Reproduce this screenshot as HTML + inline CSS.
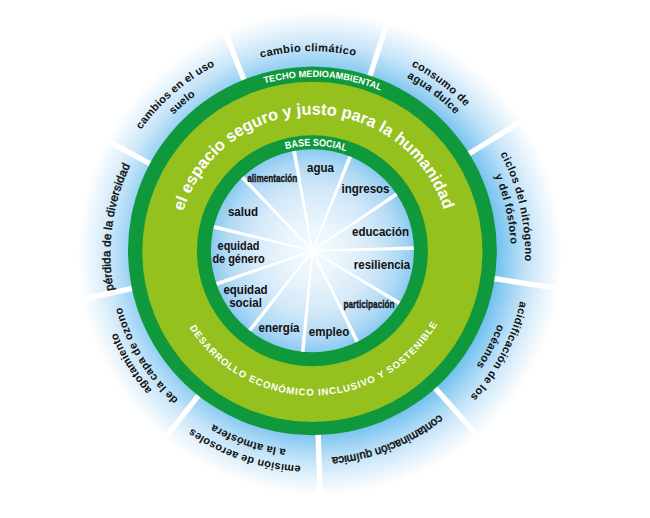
<!DOCTYPE html>
<html><head><meta charset="utf-8"><title>Doughnut</title>
<style>html,body{margin:0;padding:0;background:#fff;}body{width:650px;height:518px;overflow:hidden;font-family:"Liberation Sans",sans-serif;}svg{display:block;}</style>
</head><body>
<svg width="650" height="518" viewBox="0 0 650 518" font-family="'Liberation Sans', sans-serif">
<defs>
<radialGradient id="glow" gradientUnits="userSpaceOnUse" cx="320.0" cy="253.5" r="242">
<stop offset="0" stop-color="#6ebfee"/>
<stop offset="0.723" stop-color="#6ebfee"/>
<stop offset="0.791" stop-color="#9ad2f4"/>
<stop offset="0.860" stop-color="#c6e4f8"/>
<stop offset="0.928" stop-color="#e4f2fc"/>
<stop offset="1" stop-color="#ffffff"/>
</radialGradient>
<radialGradient id="hole" gradientUnits="userSpaceOnUse" cx="312.4" cy="250.8" r="101.5">
<stop offset="0" stop-color="#f6fbfe"/>
<stop offset="0.3" stop-color="#e9f4fc"/>
<stop offset="0.6" stop-color="#d3e9f9"/>
<stop offset="0.85" stop-color="#b1daf5"/>
<stop offset="1" stop-color="#8ccaf1"/>
</radialGradient>
<clipPath id="holeclip"><circle cx="312.4" cy="250.8" r="101.5"/></clipPath>
<path id="p1" d="M110.44,257.43 A202.00,202.00 0 0 1 514.36,248.97"/><path id="p2" d="M143.31,125.32 A212.00,212.00 0 0 1 481.49,381.08"/><path id="p3" d="M153.36,132.92 A199.40,199.40 0 0 1 471.44,373.48"/><path id="p4" d="M265.08,44.91 A213.60,213.60 0 0 1 359.72,461.49"/><path id="p5" d="M268.36,59.34 A198.80,198.80 0 0 1 356.44,447.06"/><path id="p6" d="M411.69,64.08 A213.60,213.60 0 0 1 213.11,442.32"/><path id="p7" d="M404.81,77.18 A198.80,198.80 0 0 1 219.99,429.22"/><path id="p8" d="M503.02,176.96 A205.30,205.30 0 0 1 121.78,329.44"/><path id="p9" d="M513.73,322.13 A212.80,212.80 0 0 1 111.07,184.27"/><path id="p10" d="M500.48,317.59 A198.80,198.80 0 0 1 124.32,188.81"/><path id="p11" d="M422.17,434.10 A211.60,211.60 0 0 1 202.63,72.30"/><path id="p12" d="M416.31,422.10 A198.30,198.30 0 0 1 208.49,84.30"/><path id="p13" d="M285.51,454.71 A203.30,203.30 0 0 1 339.29,51.69"/><path id="p14" d="M152.52,391.20 A211.20,211.20 0 0 1 472.28,115.20"/><path id="p15" d="M163.35,381.86 A196.90,196.90 0 0 1 461.45,124.54"/><path id="p16" d="M138.82,240.18 A173.90,173.90 0 0 1 485.98,261.42"/><path id="p17" d="M207.46,247.14 A105.00,105.00 0 0 1 417.34,254.46"/><path id="p18" d="M177.60,251.63 A136.30,136.30 0 0 1 450.20,249.97"/><path id="p19" d="M167.42,253.20 A145.00,145.00 0 0 0 457.38,248.40"/>
</defs>
<rect width="650" height="518" fill="#fff"/>
<circle cx="320.0" cy="253.5" r="242" fill="url(#glow)"/>
<g stroke="#fff" stroke-width="5.4"><line x1="369.37" y1="77.53" x2="389.86" y2="15.21"/><line x1="467.42" y1="154.68" x2="523.17" y2="120.11"/><line x1="492.70" y1="278.39" x2="557.55" y2="288.31"/><line x1="433.98" y1="386.77" x2="477.70" y2="435.68"/><line x1="318.13" y1="433.11" x2="320.19" y2="498.68"/><line x1="199.60" y1="394.14" x2="159.03" y2="445.69"/><line x1="133.85" y1="288.10" x2="69.64" y2="301.52"/><line x1="151.65" y1="164.61" x2="93.84" y2="133.61"/><line x1="244.66" y1="81.44" x2="220.30" y2="20.54"/></g>
<circle cx="312.4" cy="250.8" r="184.4" fill="#10993c"/>
<circle cx="312.4" cy="251.8" r="170.1" fill="#95c11f"/>
<circle cx="312.4" cy="250.8" r="115.5" fill="#10993c"/>
<circle cx="312.4" cy="250.8" r="101.5" fill="url(#hole)"/>
<g fill="#fff" clip-path="url(#holeclip)"><polygon points="311.61,250.94 291.85,149.34 295.59,148.66 313.19,250.66"/><polygon points="311.66,250.50 349.12,154.01 352.65,155.43 313.14,251.10"/><polygon points="311.95,250.14 397.20,191.43 399.32,194.58 312.85,251.46"/><polygon points="312.38,250.00 415.81,246.16 415.91,249.96 312.42,251.60"/><polygon points="312.81,250.11 402.09,302.49 400.13,305.75 311.99,251.49"/><polygon points="313.12,250.45 359.90,342.77 356.50,344.46 311.68,251.15"/><polygon points="313.20,250.88 304.44,354.01 300.65,353.65 311.60,250.72"/><polygon points="313.03,251.29 249.90,333.32 246.91,330.97 311.77,250.31"/><polygon points="312.66,251.56 215.21,286.43 213.97,282.84 312.14,250.04"/><polygon points="312.21,251.58 211.37,228.23 212.27,224.54 312.59,250.02"/><polygon points="311.82,251.35 239.61,177.19 242.36,174.57 312.98,250.25"/></g>
<text font-size="11" font-weight="bold" fill="#111" letter-spacing="0.4"><textPath href="#p1" startOffset="50%" text-anchor="middle">cambio climático</textPath></text><text font-size="11" font-weight="bold" fill="#111" letter-spacing="0.4"><textPath href="#p2" startOffset="50%" text-anchor="middle">consumo de</textPath></text><text font-size="11" font-weight="bold" fill="#111" letter-spacing="0.4"><textPath href="#p3" startOffset="50%" text-anchor="middle">agua dulce</textPath></text><text font-size="11" font-weight="bold" fill="#111" letter-spacing="0.4"><textPath href="#p4" startOffset="50%" text-anchor="middle">ciclos del nitrógeno</textPath></text><text font-size="11" font-weight="bold" fill="#111" letter-spacing="0.4"><textPath href="#p5" startOffset="50%" text-anchor="middle">y del fósforo</textPath></text><text font-size="11" font-weight="bold" fill="#111" letter-spacing="0.4"><textPath href="#p6" startOffset="50%" text-anchor="middle">acidificación de los</textPath></text><text font-size="11" font-weight="bold" fill="#111" letter-spacing="0.4"><textPath href="#p7" startOffset="50%" text-anchor="middle">océanos</textPath></text><text font-size="11.5" font-weight="normal" fill="#111" stroke="#111" stroke-width="0.5"><textPath href="#p8" startOffset="50%" text-anchor="middle">contaminación química</textPath></text><text font-size="11" font-weight="bold" fill="#111" letter-spacing="0.25"><textPath href="#p9" startOffset="50%" text-anchor="middle">emisión de aerosoles</textPath></text><text font-size="11" font-weight="bold" fill="#111" letter-spacing="0.25"><textPath href="#p10" startOffset="50%" text-anchor="middle">a la atmósfera</textPath></text><text font-size="11" font-weight="bold" fill="#111" letter-spacing="0.25"><textPath href="#p11" startOffset="50%" text-anchor="middle">agotamiento</textPath></text><text font-size="11" font-weight="bold" fill="#111" letter-spacing="0.3"><textPath href="#p12" startOffset="50%" text-anchor="middle">de la capa de ozono</textPath></text><text font-size="11.5" font-weight="normal" fill="#111" stroke="#111" stroke-width="0.45" letter-spacing="0.25"><textPath href="#p13" startOffset="50%" text-anchor="middle">pérdida de la diversidad</textPath></text><text font-size="11" font-weight="bold" fill="#111" letter-spacing="0.2"><textPath href="#p14" startOffset="50%" text-anchor="middle">cambios en el uso</textPath></text><text font-size="11" font-weight="bold" fill="#111" letter-spacing="0.2"><textPath href="#p15" startOffset="50%" text-anchor="middle">suelo</textPath></text><text font-size="9.2" font-weight="bold" fill="#fff"><textPath href="#p16" startOffset="50%" text-anchor="middle">TECHO MEDIOAMBIENTAL</textPath></text><text font-size="10.2" font-weight="bold" fill="#fff" textLength="61" lengthAdjust="spacingAndGlyphs"><textPath href="#p17" startOffset="50%" text-anchor="middle">BASE SOCIAL</textPath></text><text font-size="16.47" font-weight="bold" fill="#fff"><textPath href="#p18" startOffset="50%" text-anchor="middle">el espacio seguro y justo para la humanidad</textPath></text><text font-size="9.6" font-weight="bold" fill="#fff" letter-spacing="0.93"><textPath href="#p19" startOffset="50%" text-anchor="middle">DESARROLLO ECONÓMICO INCLUSIVO Y SOSTENIBLE</textPath></text>
<text transform="translate(320.5,171.5) scale(0.868,1)" font-size="13.3" font-weight="bold" text-anchor="middle" fill="#111">agua</text><text transform="translate(365.5,192.5) scale(0.868,1)" font-size="13.3" font-weight="bold" text-anchor="middle" fill="#111">ingresos</text><text transform="translate(380.5,235.5) scale(0.868,1)" font-size="13.3" font-weight="bold" text-anchor="middle" fill="#111">educación</text><text transform="translate(382,268.6) scale(0.868,1)" font-size="13.3" font-weight="bold" text-anchor="middle" fill="#111">resiliencia</text><text transform="translate(369,308) scale(0.78,1)" font-size="10.5" font-weight="bold" text-anchor="middle" fill="#111" stroke="#111" stroke-width="0.3">participación</text><text transform="translate(329,336) scale(0.868,1)" font-size="13.3" font-weight="bold" text-anchor="middle" fill="#111">empleo</text><text transform="translate(279,331.5) scale(0.868,1)" font-size="13.3" font-weight="bold" text-anchor="middle" fill="#111">energía</text><text transform="translate(245.5,294) scale(0.868,1)" font-size="13.3" font-weight="bold" text-anchor="middle" fill="#111">equidad</text><text transform="translate(245.5,306.5) scale(0.868,1)" font-size="13.3" font-weight="bold" text-anchor="middle" fill="#111">social</text><text transform="translate(238.5,250) scale(0.82,1)" font-size="13.3" font-weight="bold" text-anchor="middle" fill="#111">equidad</text><text transform="translate(238.5,262.5) scale(0.82,1)" font-size="13.3" font-weight="bold" text-anchor="middle" fill="#111">de género</text><text transform="translate(243,216) scale(0.868,1)" font-size="13.3" font-weight="bold" text-anchor="middle" fill="#111">salud</text><text transform="translate(272.3,182) scale(0.78,1)" font-size="10.5" font-weight="bold" text-anchor="middle" fill="#111" stroke="#111" stroke-width="0.3">alimentación</text>
</svg>
</body></html>
